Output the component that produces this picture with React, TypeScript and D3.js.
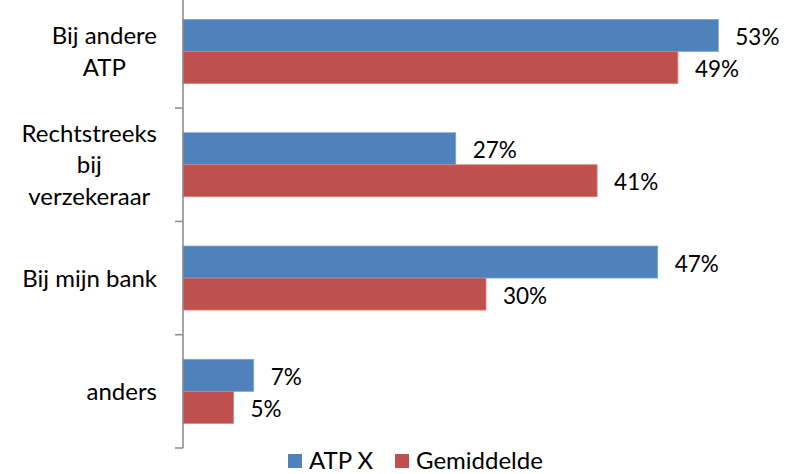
import React, { useEffect, useRef } from "react";
import * as d3 from "d3";

// Category labels (line breaks as shown on the axis)
const categories: string[][] = [
  ["Bij andere", "ATP"],
  ["Rechtstreeks", "bij", "verzekeraar"],
  ["Bij mijn bank"],
  ["anders"],
];
const seriesNames = ["ATP X", "Gemiddelde"];
const atpX = [0.53, 0.27, 0.47, 0.07];
const gemiddelde = [0.49, 0.41, 0.3, 0.05];
const seriesColors = ["#4F81BD", "#C0504D"];
const seriesStrokes = ["#7FA3D3", "#D5807D"];

const W = 790;
const H = 474;
const FONT = "Lato, 'Open Sans', sans-serif";
const FS_VALUE = 22.5;
const FS_TEXT = 24;
const LINE = 31.7;

export default function App() {
  const ref = useRef<SVGSVGElement | null>(null);

  useEffect(() => {
    const svg = d3.select(ref.current);
    svg.selectAll("*").remove();

    const axisX = 183;
    const x = d3.scaleLinear().domain([0, 0.6]).range([axisX, 789]);
    const y = d3
      .scaleBand<number>()
      .domain(d3.range(categories.length))
      .range([-5.2, 448])
      .padding(0);
    const ySub = d3
      .scaleBand<number>()
      .domain([0, 1])
      .range([0, y.bandwidth()])
      .paddingInner(0)
      .paddingOuter(0.77);

    const series = [atpX, gemiddelde];
    const pct = d3.format(".0%");

    // Bars
    series.forEach((vals, si) => {
      const g = svg.append("g");
      g.selectAll("rect")
        .data(vals)
        .join("rect")
        .attr("x", axisX)
        .attr("y", (_, i) => (y(i) as number) + (ySub(si) as number))
        .attr("width", (d) => x(d) - axisX)
        .attr("height", ySub.bandwidth())
        .attr("fill", seriesColors[si])
        .attr("stroke", seriesStrokes[si])
        .attr("stroke-width", 0.8);

      // Value labels
      g.selectAll("text")
        .data(vals)
        .join("text")
        .attr("x", (d) => x(d) + 17)
        .attr(
          "y",
          (_, i) =>
            (y(i) as number) + (ySub(si) as number) + ySub.bandwidth() / 2 + 9.7
        )
        .attr("font-family", FONT)
        .attr("font-size", FS_VALUE)
        .attr("fill", "#000")
        .text((d) => pct(d));
    });

    // Category axis
    const axis = svg.append("g").attr("stroke", "#898989").attr("stroke-width", 1.5);
    axis
      .append("line")
      .attr("x1", axisX)
      .attr("x2", axisX)
      .attr("y1", y.range()[0])
      .attr("y2", y.range()[1]);
    const tickYs = d3.range(categories.length + 1).map((i) => y.range()[0] + i * y.step());
    axis
      .selectAll("line.tick")
      .data(tickYs)
      .join("line")
      .attr("class", "tick")
      .attr("x1", axisX - 8)
      .attr("x2", axisX)
      .attr("y1", (d) => d)
      .attr("y2", (d) => d);

    // Category labels: lines centred on each other, block right-aligned
    const labelRight = 157;
    categories.forEach((lines, i) => {
      const center = (y(i) as number) + y.bandwidth() / 2;
      const g = svg.append("g");
      const texts = lines.map((ln, li) =>
        g
          .append("text")
          .attr("y", center + 8.7 + (li - (lines.length - 1) / 2) * LINE)
          .attr("font-family", FONT)
          .attr("font-size", FS_TEXT)
          .attr("fill", "#000")
          .attr("text-anchor", "middle")
          .text(ln)
      );
      const maxW = d3.max(texts, (t) => (t.node() as SVGTextElement).getComputedTextLength()) || 0;
      texts.forEach((t) => t.attr("x", labelRight - maxW / 2));
    });

    // Legend
    const legend = svg.append("g");
    const legendItems = [
      { name: seriesNames[0], color: seriesColors[0], x: 288 },
      { name: seriesNames[1], color: seriesColors[1], x: 395 },
    ];
    legendItems.forEach((it) => {
      legend
        .append("rect")
        .attr("x", it.x)
        .attr("y", 454)
        .attr("width", 14)
        .attr("height", 14)
        .attr("fill", it.color);
      legend
        .append("text")
        .attr("x", it.x + 21)
        .attr("y", 468.5)
        .attr("font-family", FONT)
        .attr("font-size", FS_TEXT)
        .attr("fill", "#000")
        .text(it.name);
    });
  }, []);

  return (
    <svg
      ref={ref}
      width={W}
      height={H}
      style={{ position: "absolute", left: 0, top: 0, background: "#fff" }}
    />
  );
}
